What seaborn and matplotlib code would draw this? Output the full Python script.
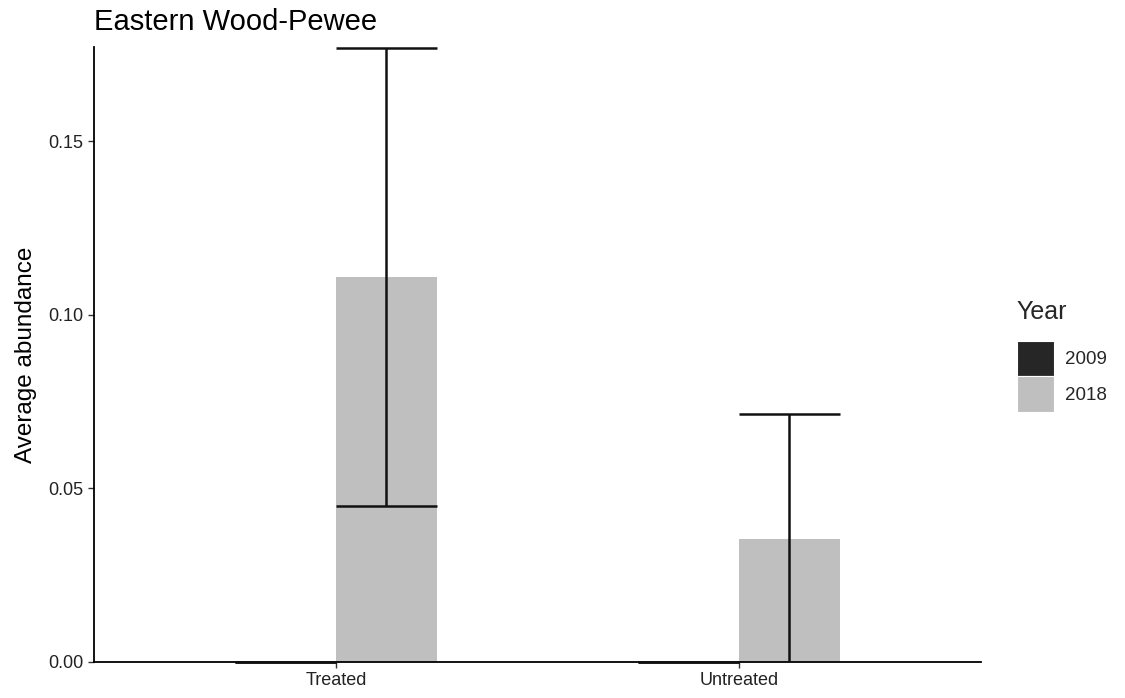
import matplotlib
matplotlib.use("Agg")
import matplotlib.pyplot as plt
import seaborn as sns
import pandas as pd
from matplotlib.patches import Patch

# Mean abundance per treatment and survey year, with error half-widths
treatments = ["Treated", "Untreated"]
years = ["2009", "2018"]
mean_2009 = [0.0, 0.0]
mean_2018 = [0.111, 0.0355]
err_2009 = [0.0, 0.0]
err_2018 = [0.066, 0.036]

year_colors = {"2009": "#262626", "2018": "#BFBFBF"}

rows = []
for i, t in enumerate(treatments):
    rows.append({"Treatment": t, "Year": "2009", "mean": mean_2009[i], "err": err_2009[i]})
    rows.append({"Treatment": t, "Year": "2018", "mean": mean_2018[i], "err": err_2018[i]})
df = pd.DataFrame(rows)

sns.set_theme(style="ticks")
plt.rcParams["font.family"] = ["Liberation Sans", "DejaVu Sans"]

fig = plt.figure(figsize=(11.25, 6.98), dpi=100)
ax = fig.add_axes([0.0836, 0.0516, 0.7884, 0.8811])

sns.barplot(data=df, x="Treatment", y="mean", hue="Year", order=treatments,
            hue_order=years, palette=year_colors, width=0.5, errorbar=None,
            saturation=1, linewidth=0, ax=ax)

# Error bars drawn at each bar's centre, whiskers as wide as the bar
for cont, yr in zip(ax.containers, years):
    sub = df[df["Year"] == yr].set_index("Treatment").loc[treatments]
    for bar, (_, r) in zip(cont.patches, sub.iterrows()):
        xc = bar.get_x() + bar.get_width() / 2
        w = bar.get_width()
        lo, hi = r["mean"] - r["err"], r["mean"] + r["err"]
        ax.vlines(xc, lo, hi, color="#111111", lw=1.8, zorder=3)
        ax.hlines([lo, hi], xc - w / 2, xc + w / 2, color="#111111", lw=1.8,
                  zorder=3, clip_on=(hi > 0))

ax.set_xlim(-0.6, 1.6)
ax.set_ylim(0, 0.1772)
ax.set_yticks([0.0, 0.05, 0.10, 0.15])
ax.set_yticklabels(["0.00", "0.05", "0.10", "0.15"])
ax.set_xlabel("")
ax.set_ylabel("Average abundance", fontsize=17.5, color="black", labelpad=8)
ax.set_title("Eastern Wood-Pewee", loc="left", fontsize=21, pad=12, color="black")

for s in ["top", "right"]:
    ax.spines[s].set_visible(False)
for s in ["left", "bottom"]:
    ax.spines[s].set_color("black")
    ax.spines[s].set_linewidth(1.3)
ax.tick_params(axis="both", labelsize=13, colors="#333333", length=4, width=1.0)
ax.tick_params(axis="both", labelcolor="#222222")

ax.legend_.remove()
handles = [Patch(facecolor=year_colors[y], edgecolor="white", linewidth=0.8) for y in years]
leg = fig.legend(handles, years, title="Year", loc="center left",
                 bbox_to_anchor=(0.897, 0.49), frameon=False, fontsize=13.5,
                 title_fontsize=18, handlelength=2.0, handleheight=2.55,
                 labelspacing=0.0, handletextpad=0.6, borderaxespad=0)
leg._legend_box.align = "left"
leg._legend_box.sep = 12

fig.savefig("out.png", dpi=100)
